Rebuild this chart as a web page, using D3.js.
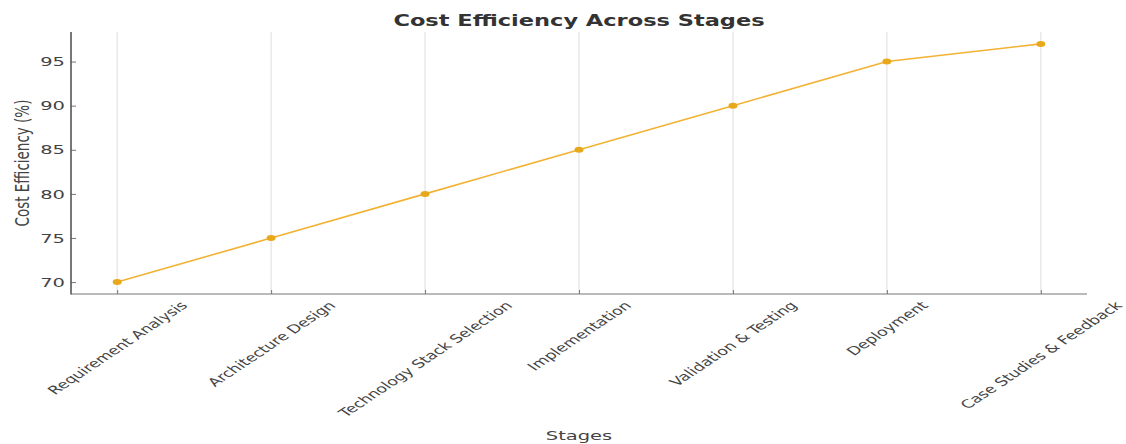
<!DOCTYPE html>
<html>
<head>
<meta charset="utf-8">
<script src="https://cdn.jsdelivr.net/npm/d3@7"></script>
<style>
  html, body { margin: 0; padding: 0; background: #fff; }
  svg { display: block; }
  text { font-family: "DejaVu Sans", sans-serif; }
</style>
</head>
<body>
<svg id="chart" width="1126" height="444"></svg>
<script>
// Stage names along the x axis
const stages = [
  "Requirement Analysis",
  "Architecture Design",
  "Technology Stack Selection",
  "Implementation",
  "Validation & Testing",
  "Deployment",
  "Case Studies & Feedback"
];
// Cost efficiency (%) at each stage
const efficiency = [70, 75, 80, 85, 90, 95, 97];
// Y axis tick values
const yTicks = [70, 75, 80, 85, 90, 95];

const W = 1126, H = 444;
const plot = { left: 71, right: 1087, top: 32, bottom: 294 };
// Text is drawn wider than tall (horizontal stretch of the whole figure)
const SX = 1.5;

const svg = d3.select("#chart");

// Index scale with 5% margins on both sides
const n = stages.length;
const xPad = (n - 1) * 0.05;
const x = d3.scaleLinear()
  .domain([-xPad, n - 1 + xPad])
  .range([plot.left, plot.right]);

const yMin = d3.min(efficiency), yMax = d3.max(efficiency);
const yPad = (yMax - yMin) * 0.05;
const y = d3.scaleLinear()
  .domain([yMin - yPad, yMax + yPad])
  .range([plot.bottom, plot.top]);

// Vertical grid lines at each stage
svg.append("g")
  .selectAll("line")
  .data(stages)
  .join("line")
  .attr("x1", (d, i) => x(i)).attr("x2", (d, i) => x(i))
  .attr("y1", plot.top).attr("y2", plot.bottom)
  .attr("stroke", "#e8e8e8")
  .attr("stroke-width", 1.5);

// Y axis (ticks point inward)
const yAxis = svg.append("g")
  .attr("transform", `translate(${plot.left},0)`)
  .call(d3.axisLeft(y).tickValues(yTicks).tickSizeInner(-5).tickSizeOuter(0).tickPadding(11));
yAxis.select(".domain").remove();
yAxis.selectAll(".tick line").attr("stroke", "#777").attr("stroke-width", 1);
yAxis.selectAll(".tick text")
  .attr("font-size", 13)
  .attr("fill", "#444")
  .attr("x", null)
  .attr("dx", null)
  .attr("text-anchor", "end")
  .attr("transform", "translate(-6,0) scale(" + SX + ",1)");

// X axis ticks (inward); labels are drawn separately
const xAxis = svg.append("g")
  .attr("transform", `translate(0,${plot.bottom})`)
  .call(d3.axisBottom(x).tickValues(d3.range(n)).tickSizeInner(-4).tickSizeOuter(0).tickFormat(""));
xAxis.select(".domain").remove();
xAxis.selectAll(".tick line").attr("stroke", "#777");

// Spines
svg.append("line")
  .attr("x1", plot.left).attr("x2", plot.left)
  .attr("y1", plot.top).attr("y2", plot.bottom + 0.5)
  .attr("stroke", "#555").attr("stroke-width", 1.6);
svg.append("line")
  .attr("x1", plot.left).attr("x2", plot.right)
  .attr("y1", plot.bottom).attr("y2", plot.bottom)
  .attr("stroke", "#777").attr("stroke-width", 1.2);

// Rotated stage labels, centred under each tick
const labelTop = 299;
const labelSize = 11.6;
const xl = svg.append("g");
stages.forEach((s, i) => {
  const t = xl.append("text")
    .text(s)
    .attr("font-size", labelSize)
    .attr("fill", "#444")
    .attr("text-anchor", "middle")
    .attr("dominant-baseline", "central");
  const L = t.node().getComputedTextLength();
  const half = (L + labelSize) * Math.SQRT1_2 / 2;
  t.attr("transform", `translate(${x(i)},${labelTop + half}) scale(${SX},1) rotate(-45)`);
});

// Line series
const line = d3.line()
  .x((d, i) => x(i))
  .y(d => y(d));
svg.append("path")
  .datum(efficiency)
  .attr("d", line)
  .attr("fill", "none")
  .attr("stroke", "#f2b233")
  .attr("stroke-width", 1.6);

// Point markers
svg.append("g")
  .selectAll("ellipse")
  .data(efficiency)
  .join("ellipse")
  .attr("cx", (d, i) => x(i))
  .attr("cy", d => y(d))
  .attr("rx", 4.5)
  .attr("ry", 3)
  .attr("fill", "#e8a81c");

// Title
svg.append("text")
  .text("Cost Efficiency Across Stages")
  .attr("font-size", 15)
  .attr("font-weight", "bold")
  .attr("fill", "#333")
  .attr("text-anchor", "middle")
  .attr("transform", `translate(${(plot.left + plot.right) / 2},26) scale(${SX},1)`);

// Axis titles
svg.append("text")
  .text("Stages")
  .attr("font-size", 13)
  .attr("fill", "#444")
  .attr("text-anchor", "middle")
  .attr("transform", `translate(${(plot.left + plot.right) / 2},440) scale(${SX},1)`);

svg.append("text")
  .text("Cost Efficiency (%)")
  .attr("font-size", 13.5)
  .attr("fill", "#444")
  .attr("text-anchor", "middle")
  .attr("transform", `translate(29,${(plot.top + plot.bottom) / 2}) scale(${SX},1) rotate(-90)`);
</script>
</body>
</html>
